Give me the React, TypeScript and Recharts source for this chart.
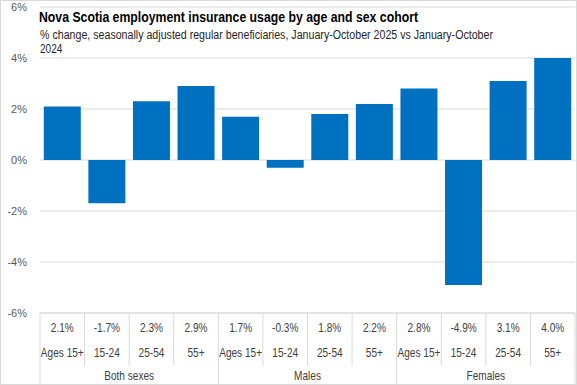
import React from "react";
import { BarChart, Bar, XAxis, YAxis, CartesianGrid } from "recharts";

const categories = ["Ages 15+", "15-24", "25-54", "55+", "Ages 15+", "15-24", "25-54", "55+", "Ages 15+", "15-24", "25-54", "55+"];
const groups = ["Both sexes", "Both sexes", "Both sexes", "Both sexes", "Males", "Males", "Males", "Males", "Females", "Females", "Females", "Females"];
const values = [2.1, -1.7, 2.3, 2.9, 1.7, -0.3, 1.8, 2.2, 2.8, -4.9, 3.1, 4.0];
const yTicks = [-6, -4, -2, 0, 2, 4, 6];

const data = categories.map((c, i) => ({ key: `${groups[i]}|${c}|${i}`, cat: c, group: groups[i], value: values[i] }));

const SANS = "'Liberation Sans', Arial, sans-serif";
const GRID = "#D9D9D9";
const NARROW_SCALE = 0.84;

const NarrowText = ({ x, y, children, size = 12, fill = "#404040", anchor = "middle" as any }: any) => (
  <g transform={`translate(${x},${y}) scale(${NARROW_SCALE},1)`}>
    <text x={0} y={0} textAnchor={anchor} fontFamily={SANS} fontSize={size} fill={fill}>
      {children}
    </text>
  </g>
);

const YTick = (props: any) => {
  const { x, y, payload } = props;
  return (
    <text x={x} y={y} dy="0.355em" textAnchor="end" fontFamily={SANS} fontSize={11} fill="#595959">
      {`${payload.value}%`}
    </text>
  );
};

const TableTick = (props: any) => {
  const { x, y, payload, index } = props;
  const i = typeof index === "number" ? index : payload.index;
  const half = payload.offset || 22.3;
  const d = data[i];
  if (!d) return null;
  const left = x - half;
  const right = x + half;
  const firstInGroup = i === 0 || data[i - 1].group !== d.group;
  const last = i === data.length - 1;
  const groupStart = data.findIndex((r) => r.group === d.group);
  const groupCount = data.filter((r) => r.group === d.group).length;
  const isLabelHolder = i === groupStart;
  const groupCenter = left + groupCount * half;
  return (
    <g>
      <NarrowText x={x} y={y + 19}>{`${d.value.toFixed(1)}%`}</NarrowText>
      <NarrowText x={x} y={y + 44}>{d.cat}</NarrowText>
      <line x1={left} x2={left} y1={y} y2={firstInGroup ? y + 71 : y + 53} stroke={GRID} />
      {last && <line x1={right} x2={right} y1={y} y2={y + 71} stroke={GRID} />}
      {isLabelHolder && <NarrowText x={groupCenter} y={y + 67}>{d.group}</NarrowText>}
    </g>
  );
};

export default function App() {
  return (
    <div style={{ position: "absolute", left: 0, top: 0, width: 577, height: 385, background: "#fff" }}>
      <BarChart width={577} height={385} data={data} margin={{ top: 7, right: 2, left: 0, bottom: 0 }} barCategoryGap="8.5%">
        <CartesianGrid vertical={false} stroke={GRID} />
        <XAxis
          dataKey="key"
          interval={0}
          height={72}
          tickSize={0}
          tickMargin={0}
          axisLine={{ stroke: GRID }}
          tickLine={false}
          tick={<TableTick />}
        />
        <YAxis
          type="number"
          domain={[-6, 6]}
          ticks={yTicks}
          interval={0}
          allowDataOverflow
          width={40}
          axisLine={false}
          tickLine={false}
          tickSize={0}
          tickMargin={13}
          tick={<YTick />}
        />
        <Bar dataKey="value" fill="#0070C0" isAnimationActive={false} />
      </BarChart>
      <svg width={577} height={385} style={{ position: "absolute", left: 0, top: 0, pointerEvents: "none" }}>
        <rect x={0.5} y={0.5} width={576} height={384} fill="none" stroke={GRID} />
        <text x={39} y={22} fontFamily={SANS} fontWeight="bold" fontSize={15.5} fill="#000" textLength={379} lengthAdjust="spacingAndGlyphs">
          Nova Scotia employment insurance usage by age and sex cohort
        </text>
        <text x={40} y={39} fontFamily={SANS} fontSize={12} fill="#262626" textLength={453} lengthAdjust="spacingAndGlyphs">
          % change, seasonally adjusted regular beneficiaries, January-October 2025 vs January-October
        </text>
        <NarrowText x={40} y={53} fill="#262626" anchor="start">2024</NarrowText>
      </svg>
    </div>
  );
}
